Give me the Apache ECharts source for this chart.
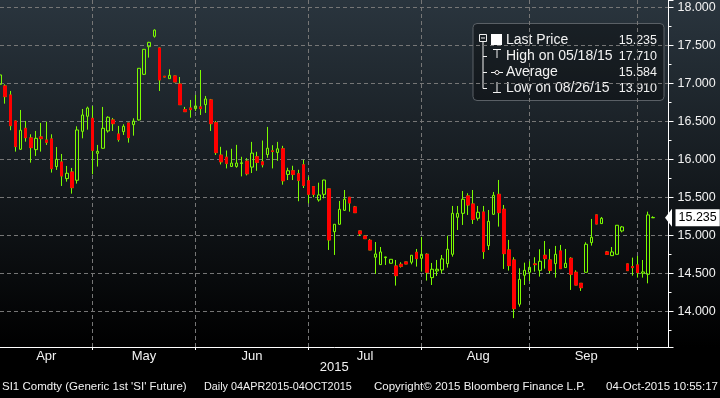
<!DOCTYPE html>
<html>
<head>
<meta charset="utf-8">
<script src="https://cdn.jsdelivr.net/npm/echarts@6/dist/echarts.min.js"></script>
<style>
  html, body { margin: 0; padding: 0; background: #000; }
  #main { width: 720px; height: 398px; background: linear-gradient(to bottom, #2a353e 0px, #000 347px, #000 398px); }
</style>
</head>
<body>
<div id="main"></div>
<script>
// SI1 Comdty daily bars (trading days), Apr 6 - Oct 4 2015
var dates = [
  '04/06/15','04/07/15','04/08/15','04/09/15','04/10/15','04/13/15','04/14/15','04/15/15','04/16/15','04/17/15',
  '04/20/15','04/21/15','04/22/15','04/23/15','04/24/15','04/27/15','04/28/15','04/29/15','04/30/15',
  '05/01/15','05/04/15','05/05/15','05/06/15','05/07/15','05/08/15','05/11/15','05/12/15','05/13/15','05/14/15',
  '05/15/15','05/18/15','05/19/15','05/20/15','05/21/15','05/22/15','05/26/15','05/27/15','05/28/15','05/29/15',
  '06/01/15','06/02/15','06/03/15','06/04/15','06/05/15','06/08/15','06/09/15','06/10/15','06/11/15','06/12/15',
  '06/15/15','06/16/15','06/17/15','06/18/15','06/19/15','06/22/15','06/23/15','06/24/15','06/25/15','06/26/15',
  '06/29/15','06/30/15',
  '07/01/15','07/02/15','07/06/15','07/07/15','07/08/15','07/09/15','07/10/15','07/13/15','07/14/15','07/15/15',
  '07/16/15','07/17/15','07/20/15','07/21/15','07/22/15','07/23/15','07/24/15','07/27/15','07/28/15','07/29/15',
  '07/30/15','07/31/15',
  '08/03/15','08/04/15','08/05/15','08/06/15','08/07/15','08/10/15','08/11/15','08/12/15','08/13/15','08/14/15',
  '08/17/15','08/18/15','08/19/15','08/20/15','08/21/15','08/24/15','08/25/15','08/26/15','08/27/15','08/28/15',
  '08/31/15',
  '09/01/15','09/02/15','09/03/15','09/04/15','09/08/15','09/09/15','09/10/15','09/11/15','09/14/15','09/15/15',
  '09/16/15','09/17/15','09/18/15','09/21/15','09/22/15','09/23/15','09/24/15','09/25/15','09/28/15','09/29/15',
  '09/30/15',
  '10/01/15','10/02/15','10/04/15'
];
var opens = [
  16.987,16.965,16.846,16.504,16.132,16.408,16.281,16.127,16.294,16.254,
  16.268,15.904,15.965,15.746,15.833,15.724,16.368,16.566,16.539,
  16.079,16.145,16.373,16.518,16.333,16.364,16.478,16.456,16.518,17.118,
  17.482,17.618,17.465,17.092,17.061,17.096,16.991,16.654,16.675,16.667,
  16.689,16.719,16.781,16.482,16.055,16.028,15.906,15.906,15.945,15.976,
  15.897,16.033,15.967,16.063,16.111,16.090,16.138,15.801,15.849,15.810,
  15.928,15.718,
  15.640,15.465,15.539,15.610,15.048,15.145,15.329,15.500,15.373,15.057,
  14.991,14.934,14.711,14.614,14.706,14.632,14.596,14.618,14.649,14.645,
  14.776,14.697,
  14.750,14.443,14.531,14.544,14.627,14.750,15.237,15.289,15.518,15.412,
  15.224,15.307,14.864,15.276,15.539,15.342,14.807,14.675,14.092,14.474,
  14.513,
  14.623,14.539,14.737,14.675,14.627,14.794,14.575,14.697,14.513,14.368,
  14.513,14.904,15.268,15.154,14.781,14.732,14.750,15.057,14.623,14.588,
  14.610,
  14.500,14.487,15.230
];
var closes = [
  17.110,16.825,16.443,16.167,16.382,16.285,16.154,16.276,16.272,16.224,
  15.877,16.000,15.781,15.816,15.627,16.386,16.583,16.675,16.118,
  16.105,16.408,16.553,16.469,16.259,16.434,16.285,16.504,17.197,17.447,
  17.539,17.700,17.044,17.083,17.105,17.018,16.719,16.627,16.654,16.702,
  16.667,16.794,16.469,16.088,15.967,15.945,15.950,15.950,15.954,15.810,
  16.081,15.959,15.928,16.146,16.103,16.138,15.718,15.849,15.801,15.723,
  15.657,15.539,
  15.539,15.531,15.727,14.939,15.145,15.342,15.474,15.425,15.298,15.018,
  14.956,14.807,14.754,14.781,14.715,14.684,14.469,14.592,14.623,14.737,
  14.693,14.750,
  14.513,14.553,14.553,14.689,14.816,15.289,15.289,15.474,15.399,15.211,
  15.303,14.785,15.184,15.526,15.298,14.759,14.601,14.035,14.421,14.539,
  14.579,
  14.614,14.658,14.693,14.539,14.750,14.561,14.632,14.487,14.346,14.311,
  14.882,14.974,15.149,15.224,14.750,14.781,15.132,15.110,14.535,14.575,
  14.509,
  14.518,15.268,15.235
];
var lows = [
  16.943,16.732,16.382,16.101,16.123,16.232,15.956,16.044,16.101,16.189,
  15.825,15.860,15.649,15.706,15.548,15.680,16.276,16.390,15.803,
  15.904,16.140,16.351,16.373,16.232,16.320,16.219,16.311,16.509,17.110,
  17.338,17.601,16.899,17.080,17.061,17.015,16.715,16.625,16.548,16.636,
  16.583,16.610,16.373,16.057,15.932,15.880,15.900,15.889,15.775,15.788,
  15.819,15.849,15.893,16.020,15.880,15.980,15.666,15.727,15.727,15.448,
  15.622,15.421,
  15.500,15.443,15.487,14.807,14.741,15.140,15.320,15.311,15.296,14.991,
  14.954,14.805,14.491,14.612,14.610,14.630,14.338,14.575,14.621,14.618,
  14.588,14.522,
  14.404,14.346,14.465,14.500,14.575,14.719,15.070,15.136,15.268,15.149,
  15.193,14.689,14.807,15.268,15.114,14.557,14.535,13.910,14.061,14.346,
  14.399,
  14.522,14.456,14.561,14.500,14.443,14.559,14.573,14.281,14.344,14.268,
  14.511,14.864,15.147,15.152,14.748,14.730,14.748,15.039,14.533,14.469,
  14.443,
  14.443,14.368,15.230
];
var highs = [
  17.307,16.987,16.899,16.510,16.649,16.504,16.329,16.373,16.478,16.496,
  16.329,16.162,16.070,15.912,15.886,16.434,16.662,16.693,16.702,
  16.189,16.689,16.566,16.544,16.439,16.461,16.480,16.539,17.200,17.450,
  17.545,17.710,17.470,17.095,17.184,17.098,17.083,16.689,16.781,16.846,
  17.175,16.833,16.794,16.504,16.164,16.116,16.138,16.190,16.033,16.015,
  16.229,16.098,16.247,16.426,16.186,16.229,16.177,15.889,15.915,15.862,
  15.993,15.771,
  15.642,15.692,15.730,15.612,15.147,15.452,15.596,15.502,15.386,15.059,
  14.993,14.952,14.912,14.846,14.717,14.686,14.675,14.645,14.651,14.739,
  14.820,14.978,
  14.763,14.636,14.675,14.741,14.996,15.386,15.386,15.583,15.553,15.596,
  15.386,15.386,15.333,15.570,15.728,15.399,14.939,14.711,14.566,14.640,
  14.658,
  14.711,14.816,14.925,14.820,14.860,14.873,14.820,14.711,14.539,14.370,
  14.908,15.215,15.270,15.241,14.794,14.846,15.134,15.123,14.625,14.706,
  14.728,
  14.675,15.311,15.250
];
var avgPrice = 15.584;
var emptySlots = 3;   // blank days to the right of the last bar
var monthNames = ['Jan','Feb','Mar','Apr','May','Jun','Jul','Aug','Sep','Oct','Nov','Dec'];
var yearLabel = '2015';

var GREEN = '#7cfc00';
var RED = '#ff0000';
var FG = '#f2f2f2';
var FONT = "'Liberation Sans',Arial,sans-serif";

var n = dates.length;
var cats = dates.slice();
for (var k = 0; k < emptySlots; k++) cats.push('');

// candle data: [open, close, low, high]
var allBars = [], downBodies = [];
for (var i = 0; i < cats.length; i++) {
  if (i < n) {
    allBars.push([opens[i], closes[i], lows[i], highs[i]]);
    if (closes[i] < opens[i]) downBodies.push([opens[i], closes[i], closes[i], opens[i]]);
    else downBodies.push(['-', '-', '-', '-']);
  } else {
    allBars.push(['-', '-', '-', '-']);
    downBodies.push(['-', '-', '-', '-']);
  }
}

// month boundaries (last trading day) and label spots (middle of full months)
var monthEnd = {}, monthLabel = {};
var start = 0;
for (var i = 0; i < n; i++) {
  var m = dates[i].slice(0, 2);
  var next = i + 1 < n ? dates[i + 1].slice(0, 2) : null;
  if (next !== null && next !== m) {
    monthEnd[i] = true;
    monthLabel[Math.floor((start + i) / 2)] = monthNames[parseInt(m, 10) - 1];
    start = i + 1;
  }
}

var lastClose = closes[n - 1];
var hiIdx = 0, loIdx = 0;
for (var i = 0; i < n; i++) {
  if (highs[i] > highs[hiIdx]) hiIdx = i;
  if (lows[i] < lows[loIdx]) loIdx = i;
}

var gridLine = { color: '#767676', width: 1, type: [4, 3] };

function txt(x, y, s, size, align) {
  return { type: 'text', x: x, y: y, silent: true,
    style: { text: s, fill: FG, font: size + 'px ' + FONT, align: align || 'left', verticalAlign: 'middle' } };
}
function seg(x1, y1, x2, y2) {
  return { type: 'line', silent: true, shape: { x1: x1, y1: y1, x2: x2, y2: y2 }, style: { stroke: FG, lineWidth: 1 } };
}

var chart = echarts.init(document.getElementById('main'));
chart.setOption({
  animation: false,
  backgroundColor: 'transparent',
  grid: { left: 0, right: 51.5, top: 0, bottom: 51, containLabel: false, outerBoundsMode: 'none' },
  xAxis: {
    type: 'category',
    data: cats,
    boundaryGap: false,
    axisLine: { lineStyle: { color: '#ffffff', width: 1 } },
    axisTick: { show: true, length: 3, interval: function (i) { return !!monthEnd[i]; }, lineStyle: { color: '#ffffff' } },
    splitLine: { show: true, interval: function (i) { return !!monthEnd[i]; }, lineStyle: gridLine },
    axisLabel: {
      interval: function (i) { return !!monthLabel[i]; },
      formatter: function (v, i) { return monthLabel[i] || ''; },
      color: FG, fontSize: 13, fontFamily: FONT, margin: 3
    },
    name: yearLabel,
    nameLocation: 'middle',
    nameGap: 14,
    nameMoveOverlap: false,
    nameTextStyle: { color: FG, fontSize: 13, fontFamily: FONT }
  },
  yAxis: {
    type: 'value',
    position: 'right',
    min: 13.53,
    max: 18.096,
    splitNumber: 9,
    axisLine: { show: true, lineStyle: { color: '#ffffff', width: 1 } },
    axisTick: { show: true, length: 5, lineStyle: { color: '#ffffff' } },
    minorTick: { show: true, splitNumber: 2, length: 3, lineStyle: { color: '#ffffff' } },
    splitLine: { show: true, showMinLine: false, showMaxLine: false, lineStyle: gridLine },
    axisLabel: {
      showMinLabel: false, showMaxLabel: false,
      color: FG, fontSize: 12.5, fontFamily: FONT, margin: 9,
      formatter: function (v) { return v.toFixed(3); }
    }
  },
  series: [
    {
      type: 'candlestick',
      data: allBars,
      barWidth: 3,
      itemStyle: {
        color: 'transparent', color0: 'transparent',
        borderColor: GREEN, borderColor0: GREEN, borderColorDoji: GREEN, borderWidth: 1
      },
      markLine: {
        silent: true,
        animation: false,
        symbol: ['none', 'triangle'],
        symbolSize: [18, 7],
        symbolRotate: 90,
        lineStyle: { width: 0, color: '#ffffff' },
        label: {
          position: 'end', distance: 7,
          formatter: function () { return lastClose.toFixed(3); },
          backgroundColor: '#ffffff', color: '#000000', padding: [2, 3, 2, 3],
          fontSize: 12.5, fontFamily: FONT
        },
        data: [{ yAxis: lastClose }]
      }
    },
    {
      type: 'candlestick',
      data: downBodies,
      barWidth: 3,
      itemStyle: { color: RED, color0: RED, borderColor: RED, borderColor0: RED, borderWidth: 1 }
    }
  ],
  graphic: [
    // legend box
    { type: 'rect', silent: true, shape: { x: 473, y: 23.5, width: 191, height: 77, r: 4 },
      style: { fill: 'rgba(0,0,0,0.35)', stroke: '#5a6066', lineWidth: 1 } },
    { type: 'rect', silent: true, shape: { x: 479.5, y: 34.5, width: 7, height: 7 }, style: { fill: 'none', stroke: FG, lineWidth: 1 } },
    seg(481, 38, 485, 38),
    seg(483, 41.5, 483, 88.5),
    seg(483, 56.5, 487, 56.5),
    seg(483, 72.5, 487, 72.5),
    seg(483, 88.5, 487, 88.5),
    { type: 'rect', silent: true, shape: { x: 491, y: 34, width: 11, height: 11 }, style: { fill: '#ffffff' } },
    seg(493, 49.5, 501, 49.5),
    seg(497, 49.5, 497, 58),
    seg(491, 72.5, 503, 72.5),
    { type: 'circle', silent: true, shape: { cx: 497, cy: 72.5, r: 2 }, style: { fill: '#111', stroke: FG, lineWidth: 1 } },
    seg(497, 82, 497, 92),
    seg(493, 92.5, 501, 92.5),
    txt(506, 40.5, 'Last Price', 14),
    txt(506, 56.5, 'High on ' + dates[hiIdx], 14),
    txt(506, 72.5, 'Average', 14),
    txt(506, 88.5, 'Low on ' + dates[loIdx], 14),
    txt(657, 40.5, lastClose.toFixed(3), 12.5, 'right'),
    txt(657, 56.5, highs[hiIdx].toFixed(3), 12.5, 'right'),
    txt(657, 72.5, avgPrice.toFixed(3), 12.5, 'right'),
    txt(657, 88.5, lows[loIdx].toFixed(3), 12.5, 'right'),
    // footer
    txt(2, 387, "SI1 Comdty (Generic 1st 'SI' Future)", 11.5),
    txt(204, 387, 'Daily 04APR2015-04OCT2015', 10.8),
    txt(374, 387, 'Copyright\u00a9 2015 Bloomberg Finance L.P.', 11.5),
    txt(718, 387, '04-Oct-2015 10:55:17', 11.5, 'right')
  ]
});
</script>
</body>
</html>
